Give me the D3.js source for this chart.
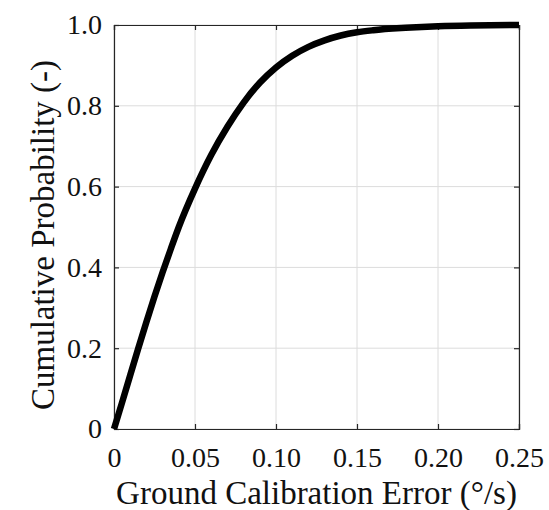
<!DOCTYPE html>
<html>
<head>
<meta charset="utf-8">
<script src="https://cdn.jsdelivr.net/npm/d3@7"></script>
<style>
  body { margin: 0; background: #fff; }
  text { font-family: "Liberation Serif", serif; fill: #111; }
</style>
</head>
<body>
<div id="chart"></div>
<script>
// calibration error (deg/s) and cumulative probability
var errorValues = [0, 0.005, 0.01, 0.015, 0.02, 0.025, 0.03, 0.035, 0.04, 0.05, 0.06, 0.07,
  0.08, 0.09, 0.10, 0.11, 0.12, 0.13, 0.14, 0.15, 0.16, 0.18, 0.20, 0.22, 0.25];
var cumProb = [0, 0.066, 0.133, 0.2, 0.265, 0.328, 0.388, 0.445, 0.5, 0.595, 0.678, 0.748,
  0.808, 0.857, 0.895, 0.924, 0.946, 0.962, 0.974, 0.982, 0.987, 0.993, 0.997, 0.999, 1.0];
var xTicks = [0, 0.05, 0.10, 0.15, 0.20, 0.25];
var xTickLabels = ["0", "0.05", "0.10", "0.15", "0.20", "0.25"];
var yTicks = [0, 0.2, 0.4, 0.6, 0.8, 1.0];
var yTickLabels = ["0", "0.2", "0.4", "0.6", "0.8", "1.0"];

var width = 549,
  height = 510;
var margin = { left: 114, right: 30, top: 25, bottom: 81 };

var svg = d3
  .select("#chart")
  .append("svg")
  .attr("width", width)
  .attr("height", height);

var x = d3.scaleLinear().domain([0, 0.25]).range([margin.left, width - margin.right]);
var y = d3.scaleLinear().domain([0, 1]).range([height - margin.bottom, margin.top]);

// grid
svg
  .append("g")
  .selectAll("line.vgrid")
  .data(xTicks)
  .enter()
  .append("line")
  .attr("x1", (d) => x(d))
  .attr("x2", (d) => x(d))
  .attr("y1", y(0))
  .attr("y2", y(1))
  .attr("stroke", "#dcdcdc")
  .attr("stroke-width", 1);

svg
  .append("g")
  .selectAll("line.hgrid")
  .data(yTicks)
  .enter()
  .append("line")
  .attr("x1", x(0))
  .attr("x2", x(0.25))
  .attr("y1", (d) => y(d))
  .attr("y2", (d) => y(d))
  .attr("stroke", "#dcdcdc")
  .attr("stroke-width", 1);

// axes with inward ticks on all sides
var tickLen = 5;
var bottomAxis = d3.axisBottom(x).tickValues(xTicks).tickSize(-tickLen).tickFormat((d, i) => xTickLabels[i]).tickPadding(18);
var topAxis = d3.axisTop(x).tickValues(xTicks).tickSize(-tickLen).tickFormat("");
var leftAxis = d3.axisLeft(y).tickValues(yTicks).tickSize(-tickLen).tickFormat((d, i) => yTickLabels[i]).tickPadding(12);
var rightAxis = d3.axisRight(y).tickValues(yTicks).tickSize(-tickLen).tickFormat("");

function styleAxis(g) {
  g.selectAll("path.domain").attr("stroke", "#262626").attr("stroke-width", 1.2);
  g.selectAll(".tick line").attr("stroke", "#262626").attr("stroke-width", 1.2);
  g.selectAll(".tick text")
    .attr("font-family", "Liberation Serif, serif")
    .attr("font-size", 28)
    .attr("fill", "#111");
}

svg.append("g").attr("transform", "translate(0," + y(0) + ")").call(bottomAxis).call(styleAxis);
svg.append("g").attr("transform", "translate(0," + y(1) + ")").call(topAxis).call(styleAxis);
svg.append("g").attr("transform", "translate(" + x(0) + ",0)").call(leftAxis).call(styleAxis);
svg.append("g").attr("transform", "translate(" + x(0.25) + ",0)").call(rightAxis).call(styleAxis);

// the curve
var line = d3
  .line()
  .x((d, i) => x(errorValues[i]))
  .y((d) => y(d))
  .curve(d3.curveMonotoneX);

svg
  .append("path")
  .datum(cumProb)
  .attr("d", line)
  .attr("fill", "none")
  .attr("stroke", "#000")
  .attr("stroke-width", 6.5)
  .attr("stroke-linejoin", "round");

// labels
svg
  .append("text")
  .attr("x", (x(0) + x(0.25)) / 2)
  .attr("y", 504)
  .attr("text-anchor", "middle")
  .attr("font-size", 33)
  .text("Ground Calibration Error (°/s)");

svg
  .append("text")
  .attr("transform", "translate(54,235) rotate(-90)")
  .attr("text-anchor", "middle")
  .attr("font-size", 33)
  .text("Cumulative Probability (-)");
</script>
</body>
</html>
